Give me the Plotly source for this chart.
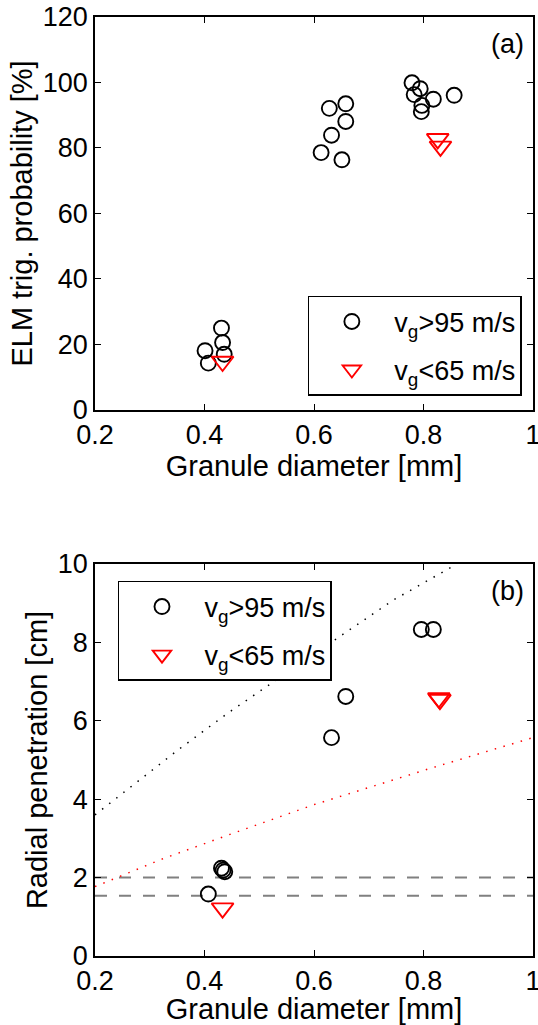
import plotly.graph_objects as go

# ---------- data (panel a) ----------
a_fast_x = [0.401, 0.407, 0.431, 0.433, 0.436, 0.613, 0.628, 0.632, 0.651, 0.658, 0.658,
            0.779, 0.794, 0.783, 0.818, 0.797, 0.796, 0.856]
a_fast_y = [18.1, 14.3, 25.0, 20.6, 17.0, 78.6, 92.1, 83.9, 76.4, 93.5, 88.1,
            99.9, 98.1, 96.3, 94.9, 93.0, 91.1, 96.1]
a_slow_x = [0.433, 0.826, 0.831]
a_slow_y = [14.8, 82.8, 80.5]

# ---------- data (panel b) ----------
b_fast_x = [0.407, 0.431, 0.434, 0.437, 0.632, 0.658, 0.796, 0.818]
b_fast_y = [1.58, 2.24, 2.19, 2.15, 5.57, 6.62, 8.33, 8.33]
b_slow_x = [0.433, 0.828, 0.830]
b_slow_y = [1.22, 6.58, 6.54]

model_fast_x = [0.2, 0.352, 0.443, 0.526, 0.647, 0.745, 0.861]
model_fast_y = [3.6, 5.26, 6.2, 7.0, 8.15, 9.08, 10.0]
model_slow_x = [0.2, 0.322, 0.444, 0.602, 0.818, 1.0]
model_slow_y = [1.77, 2.47, 3.09, 3.87, 4.81, 5.57]
dashed_levels = [2.0, 1.54]
dashed_x = [0.2, 1.0]

x_ticks = [0.2, 0.4, 0.6, 0.8, 1.0]
x_ticktext = ["0.2", "0.4", "0.6", "0.8", "1"]
a_yticks = [0, 20, 40, 60, 80, 100, 120]
b_yticks = [0, 2, 4, 6, 8, 10]

lbl_fast = "v<sub>g</sub>>95 m/s"
lbl_slow = "v<sub>g</sub><65 m/s"

FONT = "Liberation Sans, Arial, Helvetica, sans-serif"
TICK = 27
TITLE = 29
LEG = 27

fig = go.Figure()

circ = dict(symbol="circle-open", size=15, color="black", line=dict(width=1.9, color="black"))
tri = dict(symbol="triangle-down-open", size=19, color="red", line=dict(width=1.9, color="red"))

# panel a
fig.add_trace(go.Scatter(x=a_fast_x, y=a_fast_y, mode="markers", marker=circ, name=lbl_fast,
                         xaxis="x", yaxis="y", legend="legend", legendgroup="a1"))
fig.add_trace(go.Scatter(x=a_slow_x, y=a_slow_y, mode="markers", marker=tri, name=lbl_slow,
                         xaxis="x", yaxis="y", legend="legend", legendgroup="a2"))

# panel b
for lv in dashed_levels:
    fig.add_trace(go.Scatter(x=dashed_x, y=[lv, lv], mode="lines",
                             line=dict(color="#808080", width=2, dash="12px,12px"),
                             showlegend=False, hoverinfo="skip", xaxis="x2", yaxis="y2"))
fig.add_trace(go.Scatter(x=model_fast_x, y=model_fast_y, mode="lines",
                         line=dict(color="black", width=1.5, dash="1.5px,7.5px"),
                         showlegend=False, xaxis="x2", yaxis="y2"))
fig.add_trace(go.Scatter(x=model_slow_x, y=model_slow_y, mode="lines",
                         line=dict(color="red", width=1.5, dash="1.5px,7.5px"),
                         showlegend=False, xaxis="x2", yaxis="y2"))
fig.add_trace(go.Scatter(x=b_fast_x, y=b_fast_y, mode="markers", marker=circ, name=lbl_fast,
                         xaxis="x2", yaxis="y2", legend="legend2", legendgroup="b1"))
fig.add_trace(go.Scatter(x=b_slow_x, y=b_slow_y, mode="markers", marker=tri, name=lbl_slow,
                         xaxis="x2", yaxis="y2", legend="legend2", legendgroup="b2"))

ax_common = dict(showline=True, linecolor="black", linewidth=1.5, mirror="ticks",
                 ticks="inside", ticklen=6, tickwidth=1.2, tickcolor="black",
                 showgrid=False, zeroline=False, automargin=False,
                 ticklabeloverflow="allow",
                 tickfont=dict(family=FONT, size=TICK, color="black"))

legend_common = dict(bgcolor="white", bordercolor="black", borderwidth=1.5,
                     font=dict(family=FONT, size=LEG, color="black"),
                     itemwidth=75, tracegroupgap=10, xanchor="left", yanchor="top")

fig.update_layout(
    width=538, height=1025,
    margin=dict(l=95, r=5, t=17, b=69),
    paper_bgcolor="white", plot_bgcolor="white",
    font=dict(family=FONT, color="black"),
    xaxis=dict(domain=[0, 1], range=[0.2, 1.0], tickvals=x_ticks, ticktext=x_ticktext,
               anchor="y", title=dict(text="Granule diameter [mm]",
                                      font=dict(family=FONT, size=TITLE), standoff=3),
               **ax_common),
    yaxis=dict(domain=[0.5815, 1.0], range=[0, 120], tickvals=a_yticks, anchor="x",
               title=dict(text="ELM trig. probability [%]",
                          font=dict(family=FONT, size=TITLE), standoff=2),
               **ax_common),
    xaxis2=dict(domain=[0, 1], range=[0.2, 1.0], tickvals=x_ticks, ticktext=x_ticktext,
                anchor="y2", title=dict(text="Granule diameter [mm]",
                                        font=dict(family=FONT, size=TITLE), standoff=3),
                **ax_common),
    yaxis2=dict(domain=[0, 0.4175], range=[0, 10], tickvals=b_yticks, anchor="x2",
                title=dict(text="Radial penetration [cm]",
                           font=dict(family=FONT, size=TITLE), standoff=2),
                **ax_common),
    legend=dict(x=0.486, y=0.703, **legend_common),
    legend2=dict(x=0.0525, y=0.3994, **legend_common),
    annotations=[
        dict(text="(a)", xref="x domain", yref="y domain", x=0.985, y=0.975,
             xanchor="right", yanchor="top", showarrow=False,
             font=dict(family=FONT, size=TICK, color="black")),
        dict(text="(b)", xref="x2 domain", yref="y2 domain", x=0.985, y=0.975,
             xanchor="right", yanchor="top", showarrow=False,
             font=dict(family=FONT, size=TICK, color="black")),
    ],
)

fig.write_html("out.html", config={"displayModeBar": False},
               post_script="document.body.style.margin='0px';document.body.style.overflow='hidden';")
